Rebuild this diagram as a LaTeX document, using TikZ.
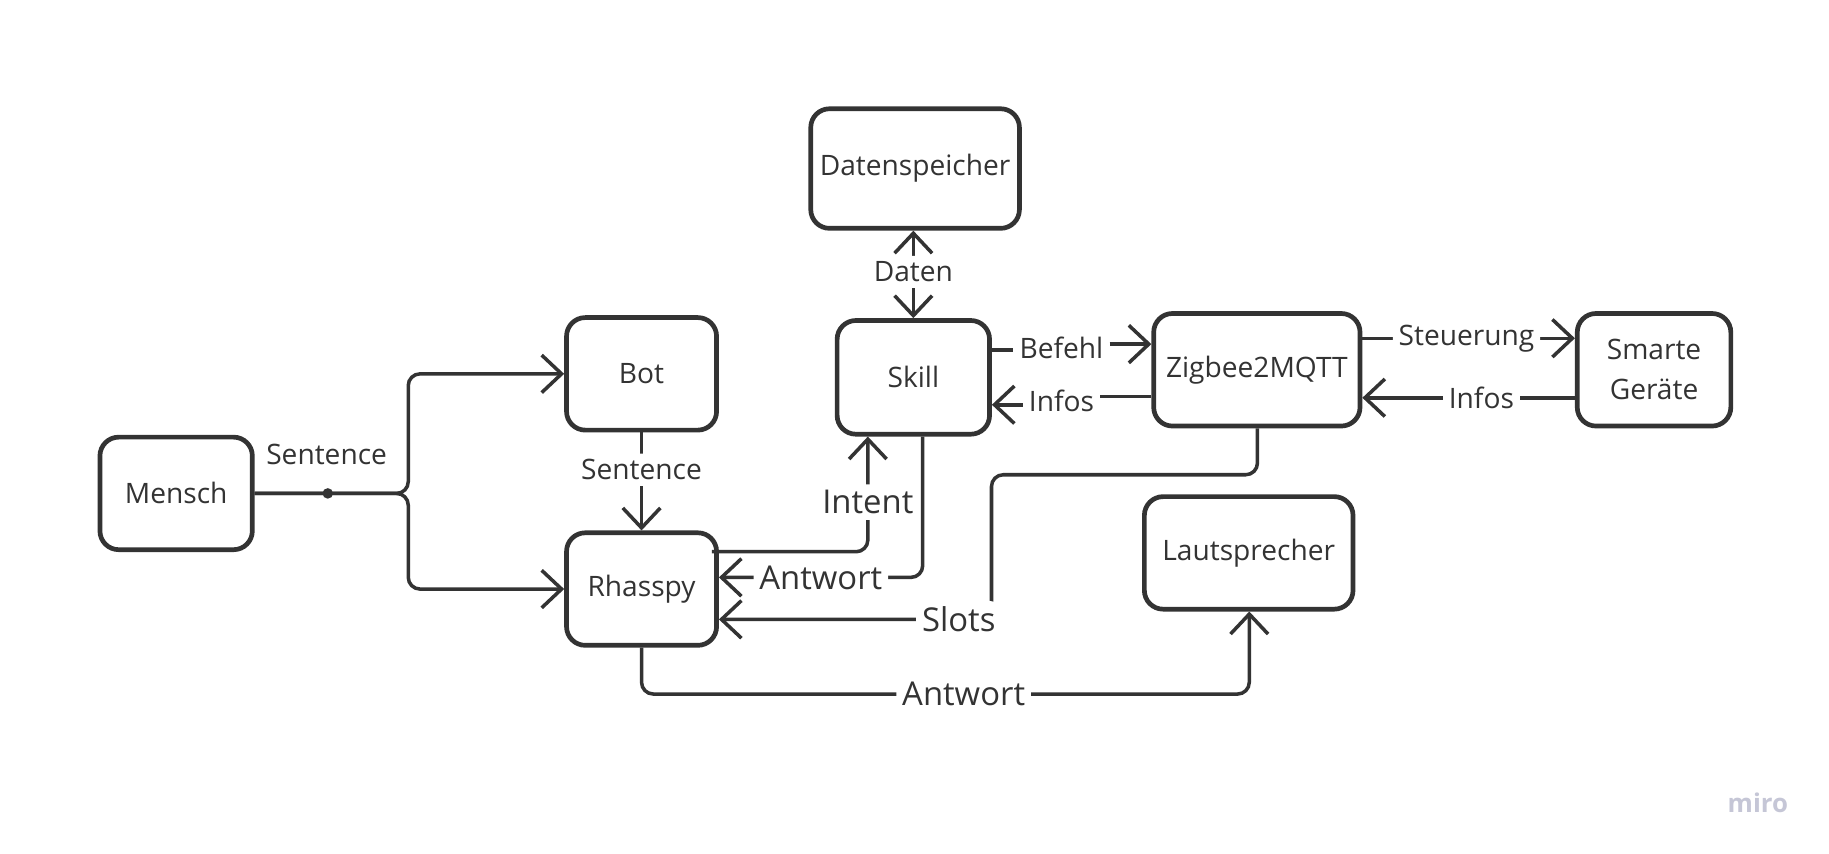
\documentclass[tikz,border=0pt]{standalone}
\usepackage{fontspec}
\setmainfont{Open Sans}
\usetikzlibrary{arrows.meta}
\definecolor{ink}{HTML}{333333}
\definecolor{miroc}{HTML}{C5C6D6}
\begin{document}
\begin{tikzpicture}[x=0.4975pt,y=-0.4975pt,
  box/.style={draw=ink, line width=2pt, rounded corners=8pt, text=ink, inner sep=0pt,
    font=\fontsize{12}{17}\selectfont, align=center},
  conn/.style={draw=ink, line width=1.5pt, rounded corners=5pt},
  arr/.style={-{Straight Barb[length=8.5pt,width=16pt]}},
  darr/.style={{Straight Barb[length=8.5pt,width=16pt]}-{Straight Barb[length=8.5pt,width=16pt]}},
  lbl/.style={fill=white, text=ink, inner sep=2.5pt, font=\fontsize{12}{14}\selectfont},
  biglbl/.style={fill=white, text=ink, inner sep=2.5pt, font=\fontsize{14}{16}\selectfont}]
\fill[white] (0,0) rectangle (1568,731.3);
\useasboundingbox (0,0) rectangle (1568,731.3);

% boxes
\node[box, minimum width=65pt, minimum height=48pt] (mensch) at (151,423) {Mensch};
\node[box, minimum width=64pt, minimum height=48pt] (bot) at (550,320.5) {Bot};
\node[box, minimum width=64pt, minimum height=48pt] (rhasspy) at (550,505) {Rhasspy};
\node[box, minimum width=65pt, minimum height=48.5pt] (skill) at (783,323.5) {Skill};
\node[box, minimum width=89pt, minimum height=51pt] (daten) at (784.5,144.5) {Datenspeicher};
\node[box, minimum width=88pt, minimum height=48pt] (zigbee) at (1077.5,317) {Zigbee2MQTT};
\node[box, minimum width=65.5pt, minimum height=48pt] (smart) at (1418,317) {Smarte\\Geräte};
\node[box, minimum width=89pt, minimum height=48pt] (laut) at (1070.5,474) {Lautsprecher};

% Mensch -> Bot / Rhasspy
\node[circle, fill=ink, inner sep=0pt, minimum size=4.5pt] (dot) at (281,423) {};
\draw[conn, arr] (mensch.east) -- (350,423) |- (bot.west);
\draw[conn, arr] (mensch.east) -- (350,423) |- (rhasspy.west);
\node[text=ink, font=\fontsize{12}{14}\selectfont] (sent1) at (280,390) {Sentence};

% Bot -> Rhasspy
\draw[conn, arr] (bot.south) -- node[lbl, pos=0.38] {Sentence} (rhasspy.north);

% Datenspeicher <-> Skill
\draw[conn, darr] (daten.south -| 783,0) -- node[lbl, pos=0.47] {Daten} (skill.north);

% Skill -> Zigbee (Befehl)
\node[lbl] (befehl) at (910,298) {Befehl};
\draw[conn] (skill.east |- 0,300) -- (befehl.west |- 0,300);
\draw[conn, arr] (befehl.east |- 0,295) -- (zigbee.west |- 0,295);

% Zigbee -> Skill (Infos)
\node[lbl] (infos1) at (910,344) {Infos};
\draw[conn] (zigbee.west |- 0,340) -- (infos1.east |- 0,340);
\draw[conn, arr] (infos1.west |- 0,347) -- (skill.east |- 0,347);

% Zigbee <-> Smarte
\draw[conn, arr] (zigbee.east |- 0,290) -- node[lbl, pos=0.49] {Steuerung} (smart.west |- 0,290);
\draw[conn, arr] (smart.west |- 0,341) -- node[lbl, pos=0.44] {Infos} (zigbee.east |- 0,341);

% Rhasspy -> Skill (Intent)
\draw[conn, arr] (rhasspy.east |- 0,473) ++(-6,0) -- (744,473) -- node[biglbl, pos=0.43] {Intent} (skill.south -| 744,0);

% Skill -> Rhasspy (Antwort)
\draw[conn, arr] (skill.south -| 791,0) -- (791,495) -- node[biglbl, pos=0.5] {Antwort} (rhasspy.east |- 0,495);

% Zigbee -> Rhasspy (Slots)
\draw[conn, arr] (zigbee.south -| 1078,0) -- (1078,407) -- (850,407) -- (850,531) -- node[biglbl, pos=0.12] {Slots} (rhasspy.east |- 0,531);

% Rhasspy -> Lautsprecher (Antwort)
\draw[conn, arr] (rhasspy.south) -- (550,595) -- node[biglbl, pos=0.53] {Antwort} (1071,595) -- (laut.south -| 1071,0);

% watermark
\node[text=miroc, font=\fontsize{11}{13}\selectfont\bfseries] (miro) at (1507,688) {miro};
\end{tikzpicture}
\end{document}
